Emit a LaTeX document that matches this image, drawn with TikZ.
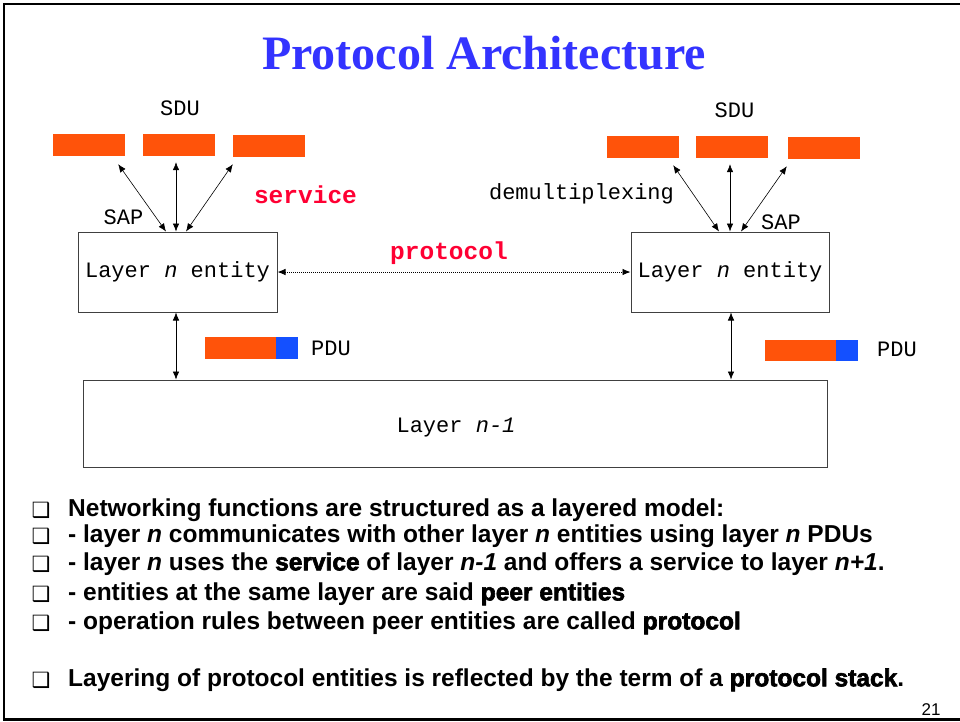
\documentclass[tikz,border=0pt]{standalone}
\usepackage{fontspec}
\setmainfont{Liberation Sans}
\setmonofont{Liberation Mono}
\newfontfamily\titlefont{Liberation Serif}
\newfontfamily\heavyfont[FakeBold=2.5]{Liberation Sans Bold}
\newfontfamily\symfont{DejaVu Sans}
\usetikzlibrary{arrows.meta}

\definecolor{sduorange}{RGB}{255,83,10}
\definecolor{hdrblue}{RGB}{20,80,255}
\definecolor{titleblue}{RGB}{51,51,255}
\definecolor{keyred}{RGB}{255,0,51}

\newcommand{\monotext}{\ttfamily\fontsize{22}{26}\selectfont}
\newcommand{\keytext}{\ttfamily\bfseries\fontsize{24.5}{28}\selectfont\color{keyred}}
\newcommand{\bultext}{\bfseries\fontsize{24.5}{28}\selectfont}
\newcommand{\heavy}[1]{{\heavyfont #1}}

\tikzset{
  sdubox/.style={fill=sduorange, draw=none, minimum width=72, minimum height=22, inner sep=0},
  hdrbox/.style={fill=hdrblue, draw=none, minimum width=22, minimum height=22, inner sep=0},
  entitybox/.style={draw=black!75, line width=1, inner sep=0, font=\monotext},
  lbl/.style={inner sep=0, font=\monotext},
  keylbl/.style={inner sep=0, font=\keytext},
  link/.style={{Latex[length=8,width=6.5]}-{Latex[length=8,width=6.5]}, line width=0.6},
  peerlink/.style={{Latex[length=8,width=6.5]}-{Latex[length=8,width=6.5]}, line width=0.8,
    dash pattern=on 1pt off 1pt},
  bullet/.style={inner sep=0, font=\symfont\fontsize{21}{24}\selectfont},
  bulline/.style={anchor=west, inner sep=0, font=\bultext},
}

\begin{document}
\begin{tikzpicture}[x=1pt, y=-1pt]
  \useasboundingbox (0,0) rectangle (960,721);

  % slide frame (left, top and bottom edges)
  \draw[line width=2.5] (960,4) -- (4,4) -- (4,719.5) -- (960,719.5);

  % title
  \node[inner sep=0, text=titleblue, font=\titlefont\bfseries\fontsize{48}{52}\selectfont]
    (title) at (484,53) {Protocol Architecture};

  % layer n entities and layer n-1
  \node[entitybox, minimum width=199, minimum height=80] (eL) at (177.5,272) {Layer \textit{n} entity};
  \node[entitybox, minimum width=198, minimum height=80] (eR) at (730,272) {Layer \textit{n} entity};
  \node[entitybox, minimum width=744, minimum height=87] (lower) at (455,423.5) {};
  \node[lbl] (lowerlbl) at (456,428) {Layer \textit{n-1}};

  % SDUs, left side
  \node[sdubox] (sL1) at (89,145) {};
  \node[sdubox] (sL2) at (179,145) {};
  \node[sdubox] (sL3) at (269,146) {};
  % SDUs, right side
  \node[sdubox] (sR1) at (643,147) {};
  \node[sdubox] (sR2) at (732,147) {};
  \node[sdubox] (sR3) at (824,148) {};

  % PDUs: payload plus header
  \node[sdubox, minimum width=71] (pL) at (240.5,348) {};
  \node[hdrbox] (hL) at (287,348) {};
  \node[sdubox, minimum width=71, minimum height=21] (pR) at (800.5,350.5) {};
  \node[hdrbox, minimum height=21] (hR) at (847,350.5) {};

  % labels
  \node[lbl] (sduL) at (180,108) {SDU};
  \node[lbl] (sduR) at (734.5,110) {SDU};
  \node[lbl] (sapL) at (123.5,217) {SAP};
  \node[lbl] (sapR) at (781,222) {SAP};
  \node[lbl] (demux) at (581.5,194) {demultiplexing};
  \node[lbl] (pduL) at (331,348) {PDU};
  \node[lbl] (pduR) at (897,349) {PDU};
  \node[keylbl] (service) at (305.5,195) {service};
  \node[keylbl] (protocol) at (449,253) {protocol};

  % service access points, left entity
  \draw[link] ([xshift=-11.5]eL.north) -- ([xshift=-7,yshift=-8]sL1.south east);
  \draw[link] ([xshift=-1.5]eL.north) -- ([xshift=-3,yshift=-6]sL2.south);
  \draw[link] ([xshift=8.5]eL.north) -- ([yshift=-7]sL3.south west);
  % service access points, right entity
  \draw[link] ([xshift=-11]eR.north) -- ([xshift=-6,yshift=-7]sR1.south east);
  \draw[link] (eR.north) -- ([xshift=-2,yshift=-6]sR2.south);
  \draw[link] ([xshift=11]eR.north) -- ([xshift=-1,yshift=-7]sR3.south west);

  % peer protocol
  \draw[peerlink] (eL.east) -- (eR.west);

  % service of layer n-1
  \draw[link] ([xshift=-1.5]eL.south) -- ([xshift=-1.5]eL.south |- lower.north);
  \draw[link] ([xshift=1]eR.south) -- ([xshift=1]eR.south |- lower.north);

  % bullet list
  \foreach \y [count=\i] in {510,536,564,594,623,680}
    \node[bullet] (b\i) at (41,\y) {❑};
  \node[bulline] (t1) at (68,510) {Networking functions are structured as a layered model:};
  \node[bulline] (t2) at (68,536) {- layer \textit{n} communicates with other layer \textit{n} entities using layer \textit{n} PDUs};
  \node[bulline] (t3) at (68,564) {- layer \textit{n} uses the \heavy{service} of layer \textit{n-1} and offers a service to layer \textit{n+1}.};
  \node[bulline] (t4) at (68,594) {- entities at the same layer are said \heavy{peer entities}};
  \node[bulline] (t5) at (68,623) {- operation rules between peer entities are called \heavy{protocol}};
  \node[bulline] (t6) at (68,680) {Layering of protocol entities is reflected by the term of a \heavy{protocol stack}.};

  % page number
  \node[inner sep=0, font=\fontsize{17}{19}\selectfont] (page) at (931,710) {21};
\end{tikzpicture}
\end{document}
